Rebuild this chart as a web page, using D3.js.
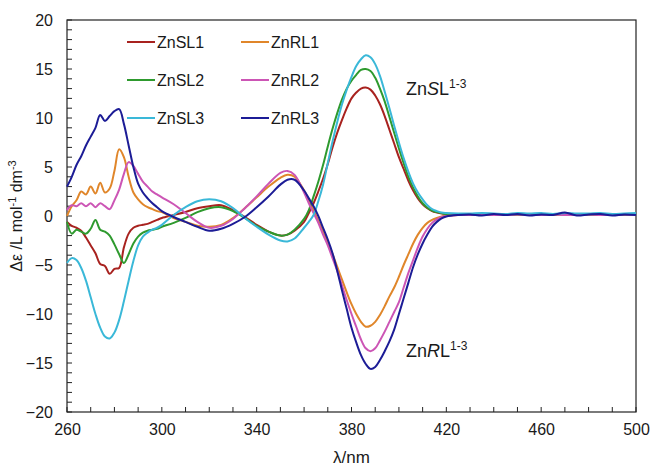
<!DOCTYPE html>
<html>
<head>
<meta charset="utf-8">
<script src="https://cdn.jsdelivr.net/npm/d3@7"></script>
<style>
  body { margin: 0; background: #fff; }
  svg text { font-family: "Liberation Sans", Arial, sans-serif; fill: #1a1a1a; }
</style>
</head>
<body>
<div id="chart"></div>
<script>
// Wavelength grid (nm)
const wavelengths = [260,262,264,266,268,270,272,274,276,278,280,282,284,286,288,290,292,294,296,298,
  300,305,310,315,320,325,330,335,340,345,350,353,356,
  360,362,364,366,368,370,372,374,376,378,380,382,384,386,388,390,392,394,396,398,400,402,404,406,408,410,412,414,416,418,420,
  425,430,435,440,445,450,455,460,465,470,475,480,485,490,495,500];

// Delta epsilon values per complex
const znSL1 = [-0.6,-1.0,-1.2,-1.5,-2.2,-3.0,-3.8,-4.9,-5.1,-5.9,-5.4,-5.3,-3.2,-1.8,-1.2,-1.0,-0.9,-0.8,-0.6,-0.4,
  -0.2,0.1,0.4,0.8,1.0,1.1,0.6,-0.1,-0.9,-1.6,-2.0,-1.9,-1.5,
  -0.6,0.3,1.3,2.5,3.8,5.3,7.0,8.5,9.8,11.0,12.0,12.6,13.0,13.1,12.9,12.3,11.4,10.2,8.8,7.4,6.0,4.8,3.6,2.6,1.8,1.2,0.8,0.5,0.35,0.25,0.2,
  0.15,0.15,0.2,0.15,0.2,0.15,0.2,0.15,0.2,0.2,0.15,0.2,0.15,0.2,0.15,0.2];
const znRL1 = [0.0,1.0,1.6,2.5,2.2,3.0,2.3,3.4,2.4,2.8,4.6,6.8,6.0,4.0,2.4,1.7,1.2,0.9,0.7,0.5,
  0.4,-0.2,-0.6,-1.0,-1.1,-0.9,-0.2,0.8,1.9,3.0,3.9,4.2,4.0,
  2.6,1.6,0.6,-0.5,-1.6,-2.7,-3.9,-5.2,-6.5,-7.8,-9.0,-10.0,-10.8,-11.3,-11.2,-10.8,-10.1,-9.2,-8.2,-7.3,-6.2,-5.0,-3.9,-2.8,-1.9,-1.2,-0.7,-0.4,-0.2,-0.05,0.05,
  0.1,0.15,0.1,0.15,0.1,0.15,0.1,0.15,0.1,0.15,0.1,0.15,0.1,0.15,0.1,0.15];
const znSL2 = [-0.6,-1.8,-1.4,-1.6,-1.8,-1.3,-0.4,-1.4,-1.6,-2.0,-2.9,-3.9,-4.8,-3.9,-2.8,-2.1,-1.7,-1.5,-1.4,-1.3,
  -1.1,-0.7,-0.2,0.4,0.8,0.9,0.5,-0.2,-1.0,-1.6,-2.0,-1.9,-1.4,
  -0.3,0.6,2.0,3.5,5.2,7.1,8.9,10.5,11.9,13.0,13.8,14.4,14.9,15.0,14.8,14.1,13.0,11.7,10.1,8.5,6.9,5.4,4.0,2.9,2.0,1.3,0.85,0.55,0.4,0.3,0.2,
  0.2,0.2,0.15,0.2,0.2,0.15,0.2,0.2,0.15,0.2,0.2,0.15,0.2,0.2,0.15,0.2];
const znRL2 = [0.6,1.1,1.0,1.3,1.0,1.3,0.9,1.3,1.0,0.7,1.6,2.7,4.3,5.5,5.1,4.3,3.5,3.0,2.5,2.2,
  1.9,1.2,0.3,-0.6,-1.2,-1.0,-0.3,0.8,2.0,3.3,4.4,4.6,4.2,
  2.4,1.3,0.3,-0.7,-1.9,-3.0,-4.3,-5.6,-7.1,-8.6,-10.0,-11.3,-12.6,-13.5,-13.8,-13.5,-12.7,-11.8,-10.8,-9.8,-8.8,-7.3,-5.8,-4.5,-3.2,-2.1,-1.3,-0.7,-0.35,-0.1,0.0,
  0.1,0.1,0.15,0.1,0.1,0.15,0.1,0.1,0.15,0.1,0.1,0.15,0.1,0.1,0.15,0.1];
const znSL3 = [-4.8,-4.3,-4.5,-5.3,-6.6,-8.3,-10.0,-11.4,-12.3,-12.5,-11.9,-10.6,-8.7,-6.6,-4.6,-3.0,-2.1,-1.7,-1.4,-1.2,
  -0.9,0.1,0.9,1.5,1.7,1.5,0.8,-0.2,-1.1,-1.9,-2.5,-2.6,-2.3,
  -1.2,-0.6,0.1,1.5,3.2,5.4,7.6,9.6,11.4,12.9,14.2,15.3,16.0,16.4,16.2,15.5,14.3,12.7,11.0,9.2,7.5,5.9,4.5,3.3,2.4,1.7,1.1,0.7,0.5,0.35,0.3,
  0.25,0.25,0.3,0.25,0.2,0.3,0.25,0.3,0.2,0.3,0.25,0.25,0.3,0.2,0.25,0.3];
const znRL3 = [3.0,4.0,5.2,6.1,7.2,8.1,9.0,10.3,9.7,10.2,10.7,10.9,9.4,7.2,5.0,3.3,2.4,1.8,1.3,0.9,
  0.5,-0.1,-0.6,-1.1,-1.5,-1.3,-0.8,-0.1,0.9,2.0,3.2,3.7,3.7,
  2.6,1.8,1.0,0.0,-1.2,-2.4,-3.8,-5.6,-7.6,-9.5,-11.4,-12.9,-14.2,-15.1,-15.6,-15.4,-14.7,-13.8,-12.8,-11.6,-10.0,-8.4,-6.8,-5.2,-3.9,-2.8,-1.9,-1.1,-0.6,-0.25,-0.05,
  0.1,0.15,0.05,0.2,0.1,0.2,0.05,0.15,0.1,0.35,0.05,0.15,0.2,0.05,0.15,0.1];

const seriesNames = ["ZnSL1", "ZnRL1", "ZnSL2", "ZnRL2", "ZnSL3", "ZnRL3"];
const seriesValues = [znSL1, znRL1, znSL2, znRL2, znSL3, znRL3];
const seriesColors = ["#a8221f", "#e0862a", "#2e9a2e", "#cc55b5", "#3ab8d8", "#1c1c96"];

const xTicks = [260, 300, 340, 380, 420, 460, 500];
const yTicks = [-20, -15, -10, -5, 0, 5, 10, 15, 20];

const width = 652, height = 466;
const margin = {top: 20, right: 16, bottom: 54, left: 67};

const svg = d3.select("#chart").append("svg")
  .attr("width", width)
  .attr("height", height);

const x = d3.scaleLinear().domain([260, 500]).range([margin.left, width - margin.right]);
const y = d3.scaleLinear().domain([-20, 20]).range([height - margin.bottom, margin.top]);

// Minor ticks (inside the plot)
const g = svg.append("g");
d3.range(-20, 21, 1).forEach(v => {
  g.append("line")
    .attr("x1", x(260)).attr("x2", x(260) + 5)
    .attr("y1", y(v)).attr("y2", y(v))
    .attr("stroke", "#222").attr("stroke-width", 1);
});
d3.range(260, 501, 10).forEach(v => {
  g.append("line")
    .attr("x1", x(v)).attr("x2", x(v))
    .attr("y1", y(-20)).attr("y2", y(-20) - 5)
    .attr("stroke", "#222").attr("stroke-width", 1);
});

// Frame
svg.append("rect")
  .attr("x", x(260)).attr("y", y(20))
  .attr("width", x(500) - x(260)).attr("height", y(-20) - y(20))
  .attr("fill", "none").attr("stroke", "#222").attr("stroke-width", 1.2);

// Axis tick labels
svg.append("g")
  .attr("transform", `translate(0,${y(-20)})`)
  .call(d3.axisBottom(x).tickValues(xTicks).tickSize(0).tickPadding(12))
  .call(a => a.select(".domain").remove())
  .selectAll("text")
  .style("font-size", "16px");

svg.append("g")
  .attr("transform", `translate(${x(260)},0)`)
  .call(d3.axisLeft(y).tickValues(yTicks).tickSize(0).tickPadding(14))
  .call(a => a.select(".domain").remove())
  .selectAll("text")
  .style("font-size", "16px");

// Curves
const line = d3.line()
  .x((d, i) => x(wavelengths[i]))
  .y(d => y(d))
  .curve(d3.curveCatmullRom.alpha(0.5));

seriesValues.forEach((vals, k) => {
  svg.append("path")
    .datum(vals)
    .attr("d", line)
    .attr("fill", "none")
    .attr("stroke", seriesColors[k])
    .attr("stroke-width", 2)
    .attr("stroke-linejoin", "round");
});

// Legend: two columns
const legendRows = [42, 80, 118];
const legendCols = [127, 241];
seriesNames.forEach((name, k) => {
  const col = k % 2, row = Math.floor(k / 2);
  const lx = legendCols[col], ly = legendRows[row];
  svg.append("line")
    .attr("x1", lx).attr("x2", lx + 28)
    .attr("y1", ly).attr("y2", ly)
    .attr("stroke", seriesColors[k]).attr("stroke-width", 2);
  svg.append("text")
    .attr("x", lx + 30).attr("y", ly)
    .attr("dy", "0.35em")
    .style("font-size", "16px")
    .text(name);
});

// Annotations
function label(xp, yp, letter) {
  const t = svg.append("text").attr("x", xp).attr("y", yp).style("font-size", "18px");
  t.append("tspan").text("Zn");
  t.append("tspan").style("font-style", "italic").text(letter);
  t.append("tspan").text("L");
  t.append("tspan").attr("dy", -7).style("font-size", "12px").text("1-3");
}
label(406, 95, "S");
label(406, 357, "R");

// Axis titles
svg.append("text")
  .attr("x", x(380)).attr("y", 463)
  .attr("text-anchor", "middle")
  .style("font-size", "17px")
  .text("λ/nm");

const yt = svg.append("text")
  .attr("transform", `translate(22,${y(0)}) rotate(-90)`)
  .attr("text-anchor", "middle")
  .style("font-size", "16px");
yt.append("tspan").text("Δε /L mol");
yt.append("tspan").attr("dy", -6).style("font-size", "11px").text("-1");
yt.append("tspan").attr("dy", 6).text(" dm");
yt.append("tspan").attr("dy", -6).style("font-size", "11px").text("-3");
</script>
</body>
</html>
